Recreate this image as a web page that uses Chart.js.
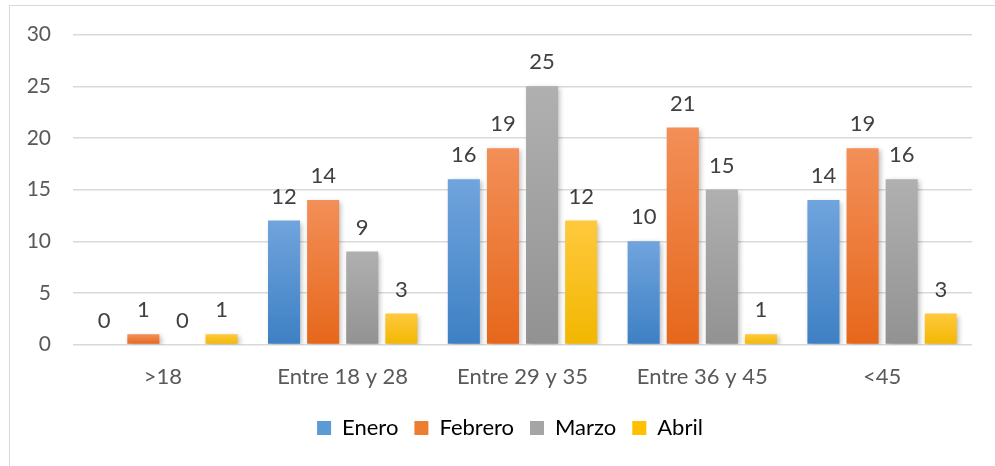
<!DOCTYPE html>
<html>
<head>
<meta charset="utf-8">
<script src="https://cdn.jsdelivr.net/npm/chart.js@4/dist/chart.umd.min.js"></script>
<style>
  html, body { margin: 0; padding: 0; background: #fff; }
  #wrap { position: relative; width: 995px; height: 466px; overflow: hidden; }
  #frame { position: absolute; left: 9px; top: 5px; width: 1000px; height: 480px; border: 1px solid #d9d9d9; box-sizing: border-box; }
  canvas { position: absolute; left: 0; top: 0; }
</style>
</head>
<body>
<div id="wrap">
  <div id="frame"></div>
  <canvas id="chart" width="995" height="466"></canvas>
</div>
<script>
// chart data
const categories = ['>18', 'Entre 18 y 28', 'Entre 29 y 35', 'Entre 36 y 45', '<45'];
const enero   = [0, 12, 16, 10, 14];
const febrero = [1, 14, 19, 21, 19];
const marzo   = [0, 9, 25, 15, 16];
const abril   = [1, 3, 12, 1, 3];
const yTicks  = [0, 5, 10, 15, 20, 25, 30];

const FONT = 'Lato, "Liberation Sans", sans-serif';

// gradient colours top -> bottom, plus flat colour for the legend
const palette = {
    Enero:   ['#70a4dd', '#3d80c4', '#5b9bd5'],
    Febrero: ['#f38f58', '#e6671b', '#ed7d31'],
    Marzo:   ['#b0b0b0', '#929292', '#a5a5a5'],
    Abril:   ['#ffc93e', '#f2b700', '#ffc000']
};

function barGradient(name) {
    return function (context) {
        const chart = context.chart;
        const y = chart.scales.y;
        if (!y || context.raw === undefined) return palette[name][2];
        const top = y.getPixelForValue(context.raw);
        const bottom = y.getPixelForValue(0);
        if (bottom - top < 1) return palette[name][2];
        const g = chart.ctx.createLinearGradient(0, top, 0, bottom);
        g.addColorStop(0, palette[name][0]);
        g.addColorStop(1, palette[name][1]);
        return g;
    };
}

function makeSet(name, data) {
    return {
        label: name,
        data: data,
        backgroundColor: barGradient(name),
        categoryPercentage: 0.87,
        barPercentage: 0.82
    };
}

// bar shadow + value labels
const valueLabels = {
    id: 'valueLabels',
    beforeDraw(chart) {
        // legend in the original sits centred under the plot, not the canvas
        if (chart.legend) chart.legend.left += 38;
    },
    beforeDatasetsDraw(chart) {
        const ctx = chart.ctx;
        ctx.save();
        ctx.shadowColor = 'rgba(0,0,0,0.28)';
        ctx.shadowBlur = 5;
        ctx.shadowOffsetX = 2;
        ctx.shadowOffsetY = 2;
    },
    afterDatasetsDraw(chart) {
        const ctx = chart.ctx;
        ctx.restore();
        ctx.save();
        ctx.font = '22px ' + FONT;
        ctx.fillStyle = '#404040';
        ctx.textAlign = 'center';
        ctx.textBaseline = 'alphabetic';
        chart.data.datasets.forEach(function (ds, i) {
            const meta = chart.getDatasetMeta(i);
            meta.data.forEach(function (bar, j) {
                ctx.fillText(ds.data[j], bar.x, bar.y - 17);
            });
        });
        ctx.restore();
    }
};

new Chart(document.getElementById('chart'), {
    type: 'bar',
    data: {
        labels: categories,
        datasets: [
            makeSet('Enero', enero),
            makeSet('Febrero', febrero),
            makeSet('Marzo', marzo),
            makeSet('Abril', abril)
        ]
    },
    options: {
        responsive: false,
        animation: false,
        layout: { padding: { left: 10, right: 23, top: 30, bottom: 17 } },
        plugins: {
            tooltip: { enabled: false },
            legend: {
                position: 'bottom',
                labels: {
                    font: { family: FONT, size: 22 },
                    color: '#595959',
                    boxWidth: 14,
                    boxHeight: 14,
                    padding: 16,
                    generateLabels(chart) {
                        return chart.data.datasets.map(function (ds, i) {
                            return {
                                text: ds.label,
                                fillStyle: palette[ds.label][2],
                                strokeStyle: palette[ds.label][2],
                                lineWidth: 0,
                                datasetIndex: i
                            };
                        });
                    }
                }
            }
        },
        scales: {
            x: {
                grid: { display: false },
                border: { display: false },
                ticks: {
                    color: '#595959',
                    font: { family: FONT, size: 22 },
                    padding: 11
                }
            },
            y: {
                min: 0,
                max: 30,
                afterBuildTicks(scale) {
                    scale.ticks = yTicks.map(function (v) { return { value: v }; });
                },
                afterFit(scale) { scale.width = 63; },
                grid: { color: '#d9d9d9', lineWidth: 1.5, drawTicks: false },
                border: { display: false },
                ticks: {
                    color: '#595959',
                    font: { family: FONT, size: 21 },
                    padding: 22
                }
            }
        }
    },
    plugins: [valueLabels]
});
</script>
</body>
</html>
